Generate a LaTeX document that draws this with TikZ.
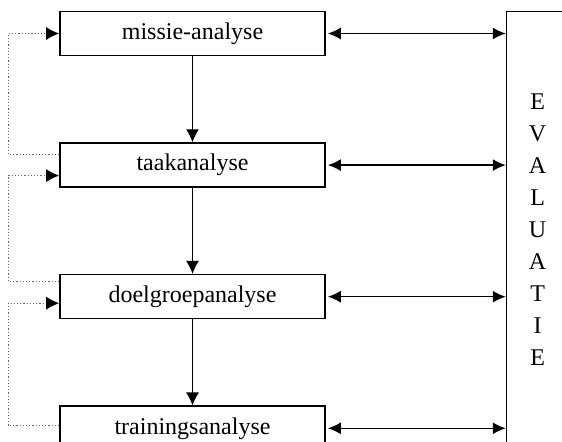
\documentclass[tikz,border=0pt]{standalone}
\usepackage{fontspec}
\setmainfont{Liberation Serif}
\usetikzlibrary{positioning,arrows.meta}

\begin{document}
\begin{tikzpicture}[
    x=0.5pt, y=-0.5pt,
    node distance=43pt,
    every node/.style={font=\fontsize{12}{16}\selectfont},
    block/.style={draw, rectangle, line width=0.8pt, align=center, minimum width=132.5pt, minimum height=22pt, inner sep=0pt},
    evalbox/.style={draw, rectangle, line width=0.8pt, align=center, minimum width=31pt, minimum height=218pt, inner sep=0pt},
    arrow/.style={-{Latex[length=6.5pt,width=6.5pt]}, line width=0.55pt},
    twoway/.style={{Latex[length=6.5pt,width=6pt]}-{Latex[length=6.5pt,width=6pt]}, line width=0.75pt, shorten <=1pt},
    back/.style={-{Latex[length=6.5pt,width=6.5pt,black]}, black!60, densely dotted, line width=0.6pt}
]
\useasboundingbox (0,0) rectangle (562,442);

\node[block] (missie) at (192.5,33.5) {missie-analyse};
\node[block, below=of missie] (taak) {taakanalyse};
\node[block, below=of taak] (doelgroep) {doelgroepanalyse};
\node[block, below=of doelgroep] (training) {trainingsanalyse};

\node[evalbox, anchor=north west] (eval) at ([xshift=90pt]missie.north east) {E\\V\\A\\L\\U\\A\\T\\I\\E};

\draw[arrow] (missie) -- (taak);
\draw[arrow] (taak) -- (doelgroep);
\draw[arrow] (doelgroep) -- (training);

\draw[twoway] (missie.east) -- (missie.east -| eval.west);
\draw[twoway] (taak.east) -- (taak.east -| eval.west);
\draw[twoway] (doelgroep.east) -- (doelgroep.east -| eval.west);
\draw[twoway] (training.east) -- (training.east -| eval.west);

% terugkoppeling
\draw[back] ([yshift=5.25pt]taak.west) -- ++(-51,0) |- (missie.west);
\draw[back] ([yshift=7.75pt]doelgroep.west) -- ++(-51,0) |- ([yshift=-5.25pt]taak.west);
\draw[back] ([yshift=1.25pt]training.west) -- ++(-51,0) |- ([yshift=-3.25pt]doelgroep.west);
\end{tikzpicture}
\end{document}
